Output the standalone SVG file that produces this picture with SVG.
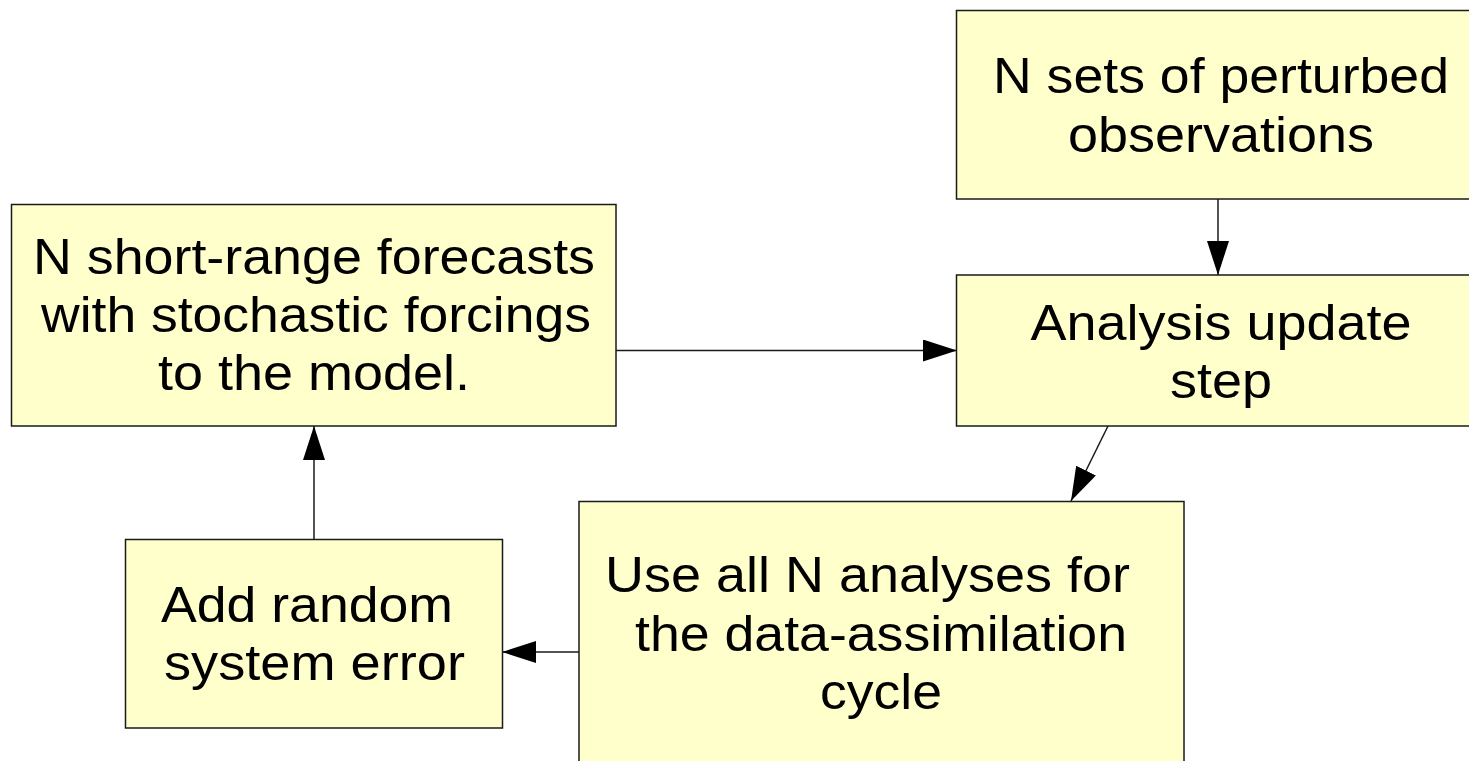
<svg xmlns="http://www.w3.org/2000/svg" width="1469" height="761" viewBox="0 0 1469 761">
<style>
.box{fill:#ffffcc;stroke:#1a1a1a;stroke-width:1.5}
.t{font-family:"Liberation Sans",Arial,sans-serif;font-size:50px;fill:#000;text-anchor:middle}
.c{stroke:#1a1a1a;stroke-width:1.5;fill:none}
</style>
<defs>
<marker id="ah" markerUnits="userSpaceOnUse" markerWidth="36" markerHeight="24" refX="34" refY="11" orient="auto">
<path d="M0,0 L34,11 L0,22 Z" fill="#000"/>
</marker>
</defs>
<rect width="1469" height="761" fill="#fff"/>
<g id="connectors">
<line class="c" x1="1218" y1="199" x2="1218" y2="275" marker-end="url(#ah)"/>
<line class="c" x1="616" y1="350.5" x2="957" y2="350.5" marker-end="url(#ah)"/>
<line class="c" x1="1108" y1="426" x2="1071" y2="501" marker-end="url(#ah)"/>
<line class="c" x1="579" y1="652" x2="502" y2="652" marker-end="url(#ah)"/>
<line class="c" x1="314" y1="539" x2="314" y2="426" marker-end="url(#ah)"/>
</g>
<g id="n-observations">
<rect class="box" x="956.5" y="10.5" width="530" height="188.5"/>
<text class="t" x="1221" y="93" textLength="456" lengthAdjust="spacingAndGlyphs">N sets of perturbed</text>
<text class="t" x="1221" y="152" textLength="306" lengthAdjust="spacingAndGlyphs">observations</text>
</g>
<g id="n-analysis">
<rect class="box" x="956.5" y="275" width="530" height="151"/>
<text class="t" x="1221" y="340" textLength="381" lengthAdjust="spacingAndGlyphs">Analysis update</text>
<text class="t" x="1221" y="398" textLength="102" lengthAdjust="spacingAndGlyphs">step</text>
</g>
<g id="n-forecasts">
<rect class="box" x="11.5" y="204.5" width="604.5" height="221.5"/>
<text class="t" x="314" y="274" textLength="562" lengthAdjust="spacingAndGlyphs">N short-range forecasts</text>
<text class="t" x="316" y="332" textLength="550" lengthAdjust="spacingAndGlyphs">with stochastic forcings</text>
<text class="t" x="314" y="390" textLength="312" lengthAdjust="spacingAndGlyphs">to the model.</text>
</g>
<g id="n-random">
<rect class="box" x="125.5" y="539.5" width="377" height="188.5"/>
<text class="t" x="307" y="622" textLength="292" lengthAdjust="spacingAndGlyphs">Add random</text>
<text class="t" x="314.5" y="680" textLength="301" lengthAdjust="spacingAndGlyphs">system error</text>
</g>
<g id="n-use">
<rect class="box" x="579" y="501.5" width="605" height="270"/>
<text class="t" x="867.5" y="592" textLength="525" lengthAdjust="spacingAndGlyphs">Use all N analyses for</text>
<text class="t" x="881" y="651" textLength="492" lengthAdjust="spacingAndGlyphs">the data-assimilation</text>
<text class="t" x="881" y="709" textLength="122" lengthAdjust="spacingAndGlyphs">cycle</text>
</g>
</svg>
